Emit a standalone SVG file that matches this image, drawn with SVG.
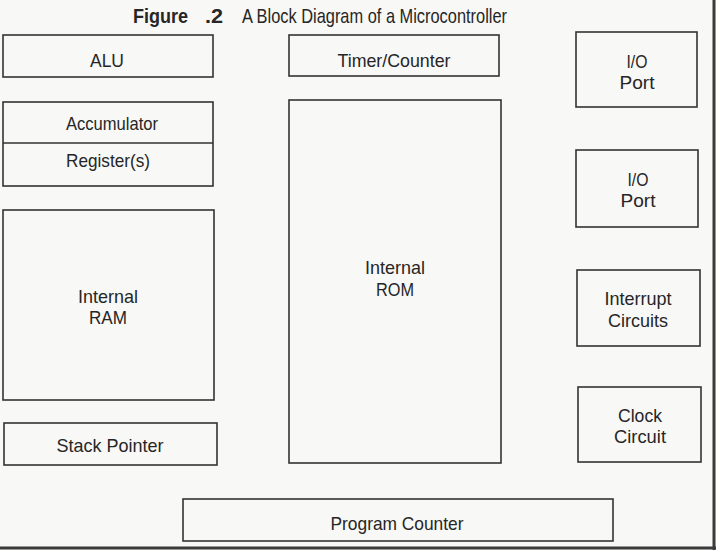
<svg xmlns="http://www.w3.org/2000/svg" width="716" height="550" viewBox="0 0 716 550">
<style>
.box{fill:none;stroke:#333;stroke-width:1.6}
.lbl{font-family:"Liberation Sans",Arial,sans-serif;font-size:19px;fill:#262626;text-anchor:middle}
.title{font-family:"Liberation Sans",Arial,sans-serif;font-size:21px;fill:#262626}
</style>
<rect x="0" y="0" width="716" height="550" fill="#f8f8f6"/>
<g id="title">
<text class="title" x="133" y="23" font-weight="bold" textLength="55" lengthAdjust="spacingAndGlyphs">Figure</text>
<text class="title" x="205" y="23" font-weight="bold" textLength="18" lengthAdjust="spacingAndGlyphs">.2</text>
<text class="title" x="242" y="23" textLength="265" lengthAdjust="spacingAndGlyphs">A Block Diagram of a Microcontroller</text>
</g>
<g id="alu"><rect class="box" x="3" y="35" width="210" height="42"/><text class="lbl" x="107" y="67" textLength="34" lengthAdjust="spacingAndGlyphs">ALU</text></g>
<g id="timer"><rect class="box" x="289" y="35" width="210" height="41"/><text class="lbl" x="394" y="67" textLength="113" lengthAdjust="spacingAndGlyphs">Timer/Counter</text></g>
<g id="io1"><rect class="box" x="576" y="32" width="121" height="75"/><text class="lbl" x="637" y="68" textLength="21" lengthAdjust="spacingAndGlyphs">I/O</text><text class="lbl" x="637" y="89" textLength="35" lengthAdjust="spacingAndGlyphs">Port</text></g>
<g id="acc"><rect class="box" x="3" y="102" width="210" height="84"/><line class="box" x1="3" y1="143" x2="213" y2="143"/><text class="lbl" x="112" y="130" textLength="92" lengthAdjust="spacingAndGlyphs">Accumulator</text><text class="lbl" x="108" y="167" textLength="84" lengthAdjust="spacingAndGlyphs">Register(s)</text></g>
<g id="io2"><rect class="box" x="576" y="150" width="122" height="77"/><text class="lbl" x="638" y="186" textLength="21" lengthAdjust="spacingAndGlyphs">I/O</text><text class="lbl" x="638" y="207" textLength="35" lengthAdjust="spacingAndGlyphs">Port</text></g>
<g id="rom"><rect class="box" x="289" y="100" width="212" height="363"/><text class="lbl" x="395" y="274" textLength="60" lengthAdjust="spacingAndGlyphs">Internal</text><text class="lbl" x="395" y="296" textLength="38" lengthAdjust="spacingAndGlyphs">ROM</text></g>
<g id="ram"><rect class="box" x="3" y="210" width="211" height="190"/><text class="lbl" x="108" y="303" textLength="60" lengthAdjust="spacingAndGlyphs">Internal</text><text class="lbl" x="108" y="324" textLength="38" lengthAdjust="spacingAndGlyphs">RAM</text></g>
<g id="interrupt"><rect class="box" x="577" y="270" width="123" height="76"/><text class="lbl" x="638" y="305" textLength="67" lengthAdjust="spacingAndGlyphs">Interrupt</text><text class="lbl" x="638" y="327" textLength="60" lengthAdjust="spacingAndGlyphs">Circuits</text></g>
<g id="clock"><rect class="box" x="578" y="387" width="123" height="75"/><text class="lbl" x="640" y="422" textLength="44" lengthAdjust="spacingAndGlyphs">Clock</text><text class="lbl" x="640" y="443" textLength="52" lengthAdjust="spacingAndGlyphs">Circuit</text></g>
<g id="stack"><rect class="box" x="4" y="423" width="213" height="42"/><text class="lbl" x="110" y="452" textLength="107" lengthAdjust="spacingAndGlyphs">Stack Pointer</text></g>
<g id="pc"><rect class="box" x="183" y="499" width="430" height="42"/><text class="lbl" x="397" y="530" textLength="133" lengthAdjust="spacingAndGlyphs">Program Counter</text></g>
<g id="connectors"></g>
<g id="frame"><line x1="714" y1="0" x2="714" y2="550" stroke="#3a3a3a" stroke-width="3"/><line x1="0" y1="548" x2="716" y2="548" stroke="#3a3a3a" stroke-width="3"/></g>
</svg>
